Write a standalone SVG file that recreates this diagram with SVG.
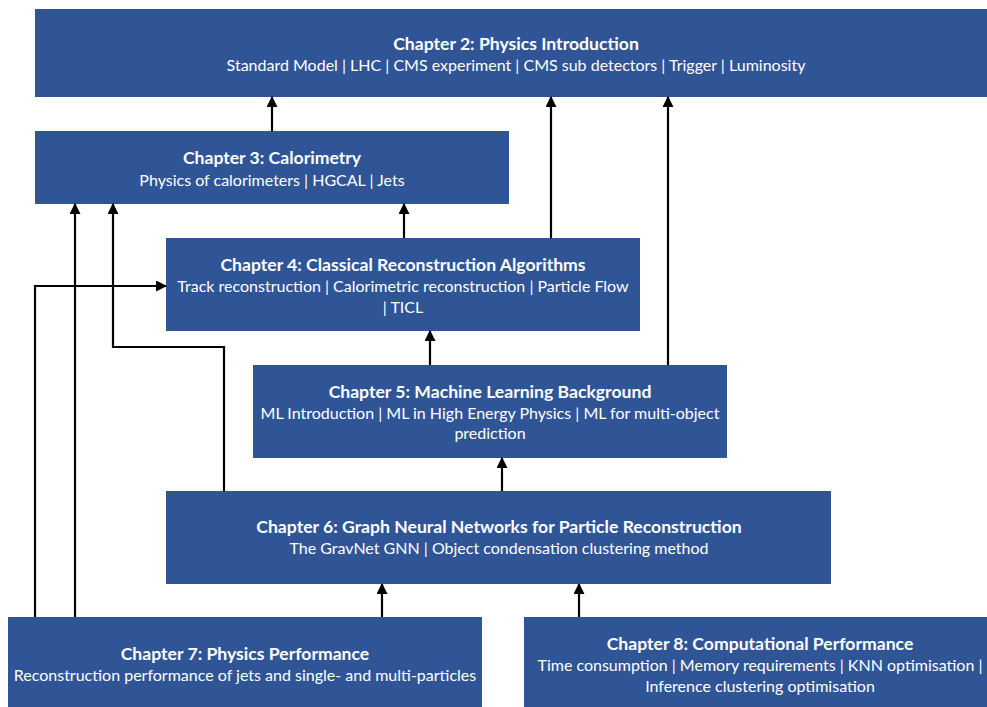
<svg xmlns="http://www.w3.org/2000/svg" width="987" height="707" viewBox="0 0 987 707">
  <style>
    .box { fill: #2F5597; }
    .title { font-family: Lato, "Liberation Sans", sans-serif; font-weight: bold; font-size: 17.6px; fill: #FFFFFF; text-anchor: middle; }
    .sub { font-family: Lato, "Liberation Sans", sans-serif; font-size: 16px; fill: #FFFFFF; text-anchor: middle; }
    .edge { fill: none; stroke: #000000; stroke-width: 2.2; marker-end: url(#arrow); }
  </style>
  <defs>
    <marker id="arrow" markerUnits="userSpaceOnUse" markerWidth="11" markerHeight="11" refX="10" refY="5.5" orient="auto">
      <path d="M0,0 L11,5.5 L0,11 Z" fill="#000000"/>
    </marker>
  </defs>
  <rect width="987" height="707" fill="#FFFFFF"/>

  <g id="ch2">
    <rect class="box" x="35" y="9" width="962" height="88"/>
    <text class="title" x="516" y="50">Chapter 2: Physics Introduction</text>
    <text class="sub" x="516" y="71">Standard Model | LHC | CMS experiment | CMS sub detectors | Trigger | Luminosity</text>
  </g>

  <g id="ch3">
    <rect class="box" x="35" y="131" width="474" height="73"/>
    <text class="title" x="272" y="164">Chapter 3: Calorimetry</text>
    <text class="sub" x="272" y="186">Physics of calorimeters | HGCAL | Jets</text>
  </g>

  <g id="ch4">
    <rect class="box" x="166" y="238" width="474" height="93"/>
    <text class="title" x="403" y="271">Chapter 4: Classical Reconstruction Algorithms</text>
    <text class="sub" x="403" y="292">Track reconstruction | Calorimetric reconstruction | Particle Flow</text>
    <text class="sub" x="403" y="313">| TICL</text>
  </g>

  <g id="ch5">
    <rect class="box" x="253" y="365" width="474" height="93"/>
    <text class="title" x="490" y="398">Chapter 5: Machine Learning Background</text>
    <text class="sub" x="490" y="419">ML Introduction | ML in High Energy Physics | ML for multi-object</text>
    <text class="sub" x="490" y="439">prediction</text>
  </g>

  <g id="ch6">
    <rect class="box" x="166" y="491" width="665" height="93"/>
    <text class="title" x="499" y="533">Chapter 6: Graph Neural Networks for Particle Reconstruction</text>
    <text class="sub" x="499" y="554">The GravNet GNN | Object condensation clustering method</text>
  </g>

  <g id="ch7">
    <rect class="box" x="8" y="617" width="474" height="95"/>
    <text class="title" x="245" y="660">Chapter 7: Physics Performance</text>
    <text class="sub" x="245" y="681">Reconstruction performance of jets and single- and multi-particles</text>
  </g>

  <g id="ch8">
    <rect class="box" x="524" y="617" width="473" height="95"/>
    <text class="title" x="760" y="650">Chapter 8: Computational Performance</text>
    <text class="sub" x="760" y="671">Time consumption | Memory requirements | KNN optimisation |</text>
    <text class="sub" x="760" y="692">Inference clustering optimisation</text>
  </g>

  <g id="connectors">
    <path class="edge" d="M272,131 V97"/>
    <path class="edge" d="M551,238 V97"/>
    <path class="edge" d="M668,365 V97"/>
    <path class="edge" d="M404,238 V204"/>
    <path class="edge" d="M430,365 V331"/>
    <path class="edge" d="M502,491 V458"/>
    <path class="edge" d="M382,617 V584"/>
    <path class="edge" d="M579,617 V584"/>
    <path class="edge" d="M35,617 V286 H166"/>
    <path class="edge" d="M75,617 V204"/>
    <path class="edge" d="M224,491 V347 H113 V204"/>
  </g>
</svg>
